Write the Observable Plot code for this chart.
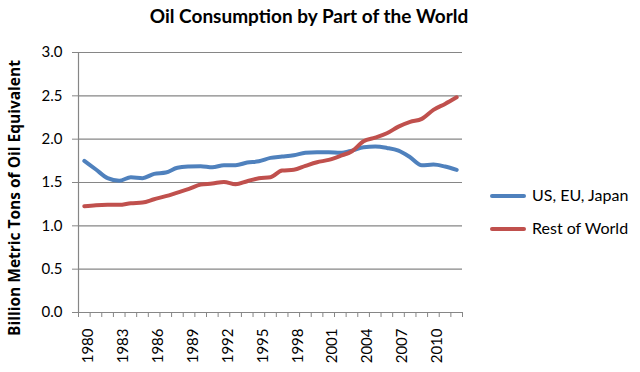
<!DOCTYPE html>
<html>
<head>
<meta charset="utf-8">
<script src="https://cdn.jsdelivr.net/npm/d3@7"></script>
<script src="https://cdn.jsdelivr.net/npm/@observablehq/plot@0.6"></script>
<style>
  html, body { margin: 0; padding: 0; background: #fff; }
  #wrap { position: relative; width: 640px; height: 372px; font-family: Lato, "Open Sans", sans-serif; }
  #title { position: absolute; left: 0; width: 618px; top: 4px; text-align: center; font-size: 19px; font-weight: bold; color: #000; }
  #ylabel { position: absolute; left: 14px; top: 198px; transform: translate(-50%, -50%) rotate(-90deg); white-space: nowrap; font-family: "Open Sans", sans-serif; font-size: 15.5px; font-weight: bold; color: #000; }
  .leg { position: absolute; left: 490px; font-size: 16px; color: #000; white-space: nowrap; }
  .leg span.sw { display: inline-block; width: 36px; height: 4px; border-radius: 2px; vertical-align: middle; margin-right: 6px; position: relative; top: -1px; }
  #chart { position: absolute; left: 0; top: 0; }
</style>
</head>
<body>
<div id="wrap">
  <div id="chart"></div>
  <div id="title">Oil Consumption by Part of the World</div>
  <div id="ylabel">Billion Metric Tons of Oil Equivalent</div>
  <div class="leg" id="leg1" style="top:185px"><span class="sw" style="background:#4F81BD"></span>US, EU, Japan</div>
  <div class="leg" id="leg2" style="top:218px"><span class="sw" style="background:#C0504D"></span>Rest of World</div>
</div>
<script>
const years = d3.range(1980, 2013);
const usEuJapan = [1.75, 1.65, 1.55, 1.52, 1.56, 1.55, 1.60, 1.615, 1.67, 1.684, 1.688, 1.676, 1.70, 1.70, 1.73, 1.745, 1.784,
  1.799, 1.815, 1.842, 1.849, 1.849, 1.842, 1.868, 1.907, 1.915, 1.899, 1.868, 1.792, 1.699, 1.707, 1.684, 1.646];
const restOfWorld = [1.226, 1.238, 1.242, 1.242, 1.261, 1.269, 1.307, 1.342, 1.384, 1.426, 1.476, 1.488, 1.507, 1.48, 1.515, 1.549, 1.561,
  1.638, 1.646, 1.692, 1.734, 1.761, 1.807, 1.861, 1.976, 2.018, 2.068, 2.145, 2.20, 2.234, 2.338, 2.407, 2.483];
const seriesNames = ["US, EU, Japan", "Rest of World"];
const seriesColors = ["#4F81BD", "#C0504D"];
const yTicks = [0, 0.5, 1.0, 1.5, 2.0, 2.5, 3.0];
const xLabelTicks = d3.range(1980, 2011, 3);

const data = [];
years.forEach((yr, i) => {
  data.push({year: yr, value: usEuJapan[i], series: seriesNames[0]});
  data.push({year: yr, value: restOfWorld[i], series: seriesNames[1]});
});

const chart = Plot.plot({
  width: 640,
  height: 372,
  marginLeft: 78,
  marginRight: 178,
  marginTop: 52,
  marginBottom: 60,
  style: {fontFamily: "Lato, 'Open Sans', sans-serif", fontSize: "13px", color: "#000", background: "transparent"},
  x: {domain: [1979.5, 2012.5]},
  y: {domain: [0, 3]},
  color: {domain: seriesNames, range: seriesColors},
  marks: [
    Plot.gridY(yTicks.filter(d => d > 0), {stroke: "#868686", strokeOpacity: 1, strokeWidth: 1.2}),
    Plot.axisY(yTicks, {tickFormat: d3.format(".1f"), tickSize: 6, tickPadding: 10, stroke: "#868686", label: null, fontSize: 15}),
    Plot.ruleX([1979.5], {stroke: "#868686", strokeWidth: 1.2}),
    Plot.ruleY([0], {stroke: "#868686", strokeWidth: 1.2}),
    Plot.axisX(d3.range(1979.5, 2013, 1), {tickSize: 5, tickFormat: () => "", stroke: "#868686", label: null}),
    Plot.axisX(xLabelTicks, {tickSize: 0, tickPadding: 16, tickRotate: -90, tickFormat: d => String(d), label: null, fontSize: 15, dx: 4}),
    Plot.line(data, {x: "year", y: "value", z: "series", stroke: "series", strokeWidth: 4, curve: "monotone-x"})
  ]
});
document.getElementById("chart").appendChild(chart);
</script>
</body>
</html>
